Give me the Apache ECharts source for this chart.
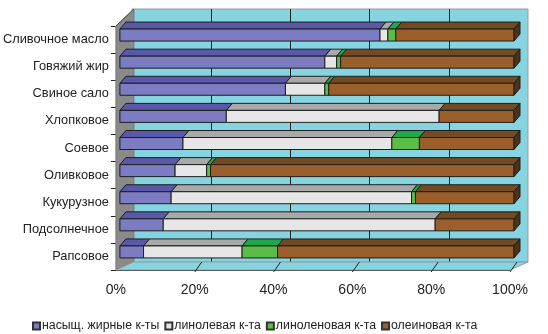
<!DOCTYPE html>
<html><head><meta charset="utf-8">
<script src="https://cdn.jsdelivr.net/npm/echarts@6/dist/echarts.min.js"></script>
<style>html,body{margin:0;padding:0;background:#fff}#c{width:548px;height:334px}</style>
</head><body><div id="c"></div>
<script>
const categories = ['Сливочное масло','Говяжий жир','Свиное сало','Хлопковое','Соевое','Оливковое','Кукурузное','Подсолнечное','Рапсовое'];
const seriesNames = ['насыщ. жирные к-ты','линолевая к-та','линоленовая к-та','олеиновая к-та'];
const saturated = [66, 52, 42, 27, 16, 14, 13, 11, 6];
const linoleic  = [2, 3, 10, 54, 53, 8, 61, 69, 25];
const linolenic = [2, 1, 1, 0, 7, 1, 1, 0, 9];
const oleic     = [30, 44, 47, 19, 24, 77, 25, 20, 60];
const xTicks = [0, 20, 40, 60, 80, 100];

const values = [saturated, linoleic, linolenic, oleic];
const faceColors = [
  {front:'#7C7CC2', top:'#5A58A8', side:'#3E3C80'},
  {front:'#E6E6E6', top:'#A9A9A9', side:'#808080'},
  {front:'#5CBC48', top:'#1FA84A', side:'#15803A'},
  {front:'#9B5F2C', top:'#744A22', side:'#4E3216'}
];

// depth offsets for faux 3D
const BX = 4, BY = -4.5, BH = 12, DX = 6, DY = -7;

function makeSeries(si) {
  const data = categories.map((c, i) => {
    let start = 0;
    for (let k = 0; k < si; k++) start += values[k][i];
    return [start, start + values[si][i], i];
  });
  const col = faceColors[si];
  return {
    name: seriesNames[si],
    type: 'custom',
    xAxisIndex: 1, yAxisIndex: 1,
    z: 5 + si,
    itemStyle: {color: col.front, borderColor: '#333', borderWidth: 1},
    data: data,
    renderItem: function (params, api) {
      const s = api.value(0), e = api.value(1), ci = api.value(2);
      if (e - s <= 0) return null;
      const p0 = api.coord([s, ci]), p1 = api.coord([e, ci]);
      const x0 = p0[0] + BX, x1 = p1[0] + BX;
      const yc = p0[1] + BY;
      const top = yc - BH / 2, bot = yc + BH / 2;
      const st = {stroke: '#1e1e1e', lineWidth: 1};
      const children = [
        {type: 'polygon', shape: {points: [[x0, top], [x0 + DX, top + DY], [x1 + DX, top + DY], [x1, top]]},
         style: Object.assign({fill: col.top}, st)},
        {type: 'rect', shape: {x: x0, y: top, width: x1 - x0, height: BH},
         style: Object.assign({fill: col.front}, st)}
      ];
      if (si === 3) {
        children.push({type: 'polygon', shape: {points: [[x1, top], [x1 + DX, top + DY], [x1 + DX, bot + DY], [x1, bot]]},
          style: Object.assign({fill: col.side}, st)});
      }
      return {type: 'group', children: children};
    }
  };
}

// walls and floor drawn from the front axes
const wallSeries = {
  type: 'custom', xAxisIndex: 1, yAxisIndex: 1, z: 1, silent: true,
  legendHoverLink: false,
  data: [[0]],
  renderItem: function (params, api) {
    const band = api.size([0, 1])[1];
    const a = api.coord([0, 0]), b = api.coord([100, categories.length - 1]);
    const left = a[0], right = b[0];
    const topY = a[1] - band / 2, botY = b[1] + band / 2;
    const children = [
      {type: 'polygon', shape: {points: [[left, topY], [left + 18, topY - 17], [left + 18, botY - 8], [left, botY]]},
       style: {fill: '#8A8A8A', stroke: '#777', lineWidth: 1}},
      {type: 'polygon', shape: {points: [[left, botY], [left + 18, botY - 8], [right + 18, botY - 8], [right, botY]]},
       style: {fill: '#86D4E0', stroke: '#9A9A9A', lineWidth: 1}},
      {type: 'line', shape: {x1: left, y1: topY, x2: left + 18, y2: topY - 17}, style: {stroke: '#555', lineWidth: 1}}
    ];
    xTicks.slice(1).forEach(t => {
      const p = api.coord([t, categories.length - 1]);
      children.push({type: 'line', shape: {x1: p[0], y1: botY + 2, x2: p[0] + 7, y2: botY - 8},
        style: {stroke: '#222', lineWidth: 1}});
    });
    return {type: 'group', children: children};
  }
};

const chart = echarts.init(document.getElementById('c'), null, {renderer: 'canvas'});
chart.setOption({
  animation: false,
  backgroundColor: '#fff',
  textStyle: {fontFamily: 'Liberation Sans, Arial, sans-serif'},
  grid: [
    {left: 132, right: 20, top: 9, bottom: 72, show: true, backgroundColor: '#86D4E0', borderColor: '#9A9A9A', borderWidth: 1},
    {left: 114, right: 38, top: 26, bottom: 64}
  ],
  xAxis: [
    {gridIndex: 0, type: 'value', min: 0, max: 100, interval: 20,
     axisLine: {show: false}, axisTick: {show: false}, axisLabel: {show: false},
     splitLine: {show: true, showMinLine: false, showMaxLine: false, lineStyle: {color: '#1e1e1e', width: 1}}},
    {gridIndex: 1, type: 'value', min: 0, max: 100, interval: 20,
     axisLine: {show: true, lineStyle: {color: '#222'}}, axisTick: {show: false},
     splitLine: {show: false},
     axisLabel: {formatter: v => v + '%', color: '#222', fontSize: 14, margin: 13,
       fontFamily: 'Liberation Sans, Arial, sans-serif'}}
  ],
  yAxis: [
    {gridIndex: 0, type: 'category', data: categories, inverse: true, show: false},
    {gridIndex: 1, type: 'category', data: categories, inverse: true,
     axisLine: {show: true, lineStyle: {color: '#222'}},
     axisTick: {show: true, length: 5, lineStyle: {color: '#222'}},
     axisLabel: {color: '#222', fontSize: 12.8, margin: 7, fontFamily: 'Liberation Sans, Arial, sans-serif'},
     splitLine: {show: false}}
  ],
  legend: {
    data: seriesNames,
    left: 27, top: 315,
    icon: 'rect', itemWidth: 7, itemHeight: 7, itemGap: 5,
    textStyle: {color: '#222', fontSize: 12.3, padding: [0, 0, 0, -3], fontFamily: 'Liberation Sans, Arial, sans-serif'}
  },
  series: [wallSeries, makeSeries(0), makeSeries(1), makeSeries(2), makeSeries(3)]
});
</script></body></html>
